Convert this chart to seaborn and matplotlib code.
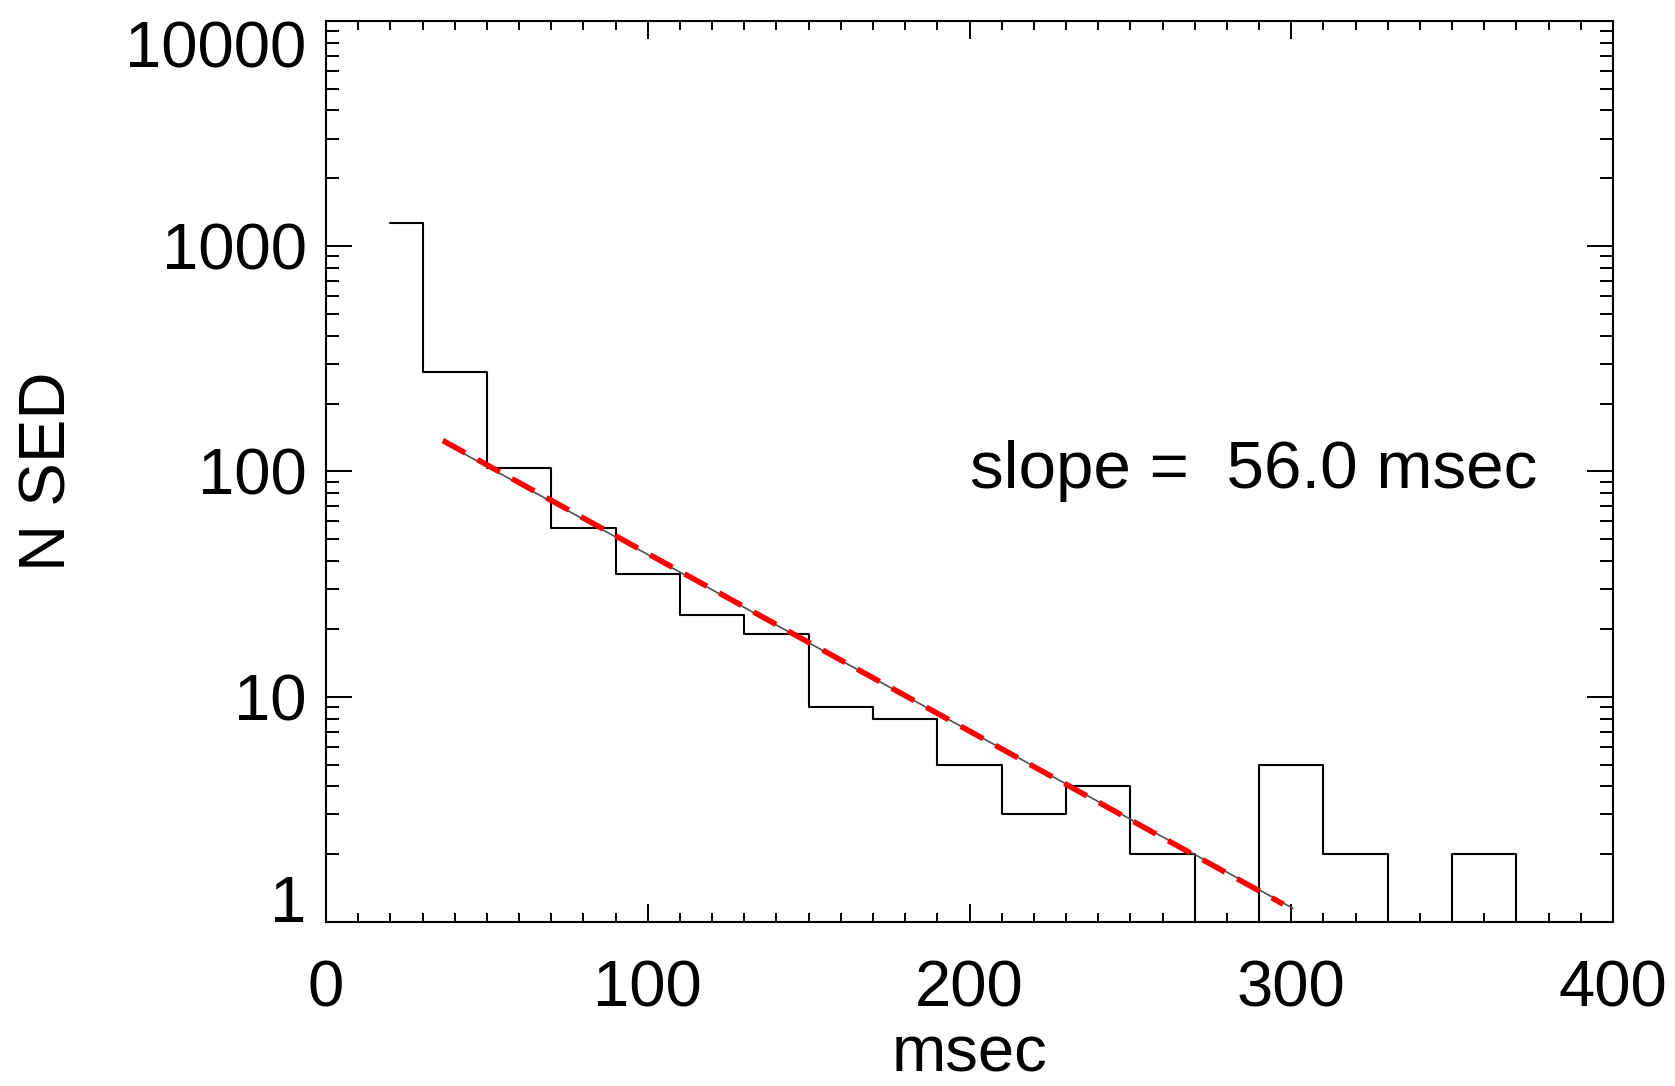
import numpy as np
import pandas as pd
import matplotlib
matplotlib.use("Agg")
import matplotlib.pyplot as plt
import seaborn as sns
from matplotlib.ticker import MultipleLocator, LogLocator, FixedLocator, FuncFormatter, NullFormatter

# ---- data ----
bin_centers = [20, 40, 60, 80, 100, 120, 140, 160, 180, 200, 220, 240, 260, 280, 300, 320, 340, 360, 380]
counts      = [1270, 275, 104, 56, 35, 23, 19, 9, 8, 5, 3, 4, 2, 0, 5, 2, 0, 2, 0]

fit_gray_x = [40.5, 300.5]
fit_gray_y = [125.0, 1.15]
fit_red_x = [36.3, 297.5]
fit_red_y = [137.0, 1.20]

x_ticks = [0, 100, 200, 300, 400]
y_ticks = [1, 10, 100, 1000, 10000]
slope_text = "slope =  56.0 msec"
x_label = "msec"
y_label = "N SED"

# ---- style ----
sns.set_theme(style="ticks")
plt.rcParams["font.family"] = ["Liberation Sans", "DejaVu Sans"]
plt.rcParams["text.color"] = "black"
plt.rcParams["axes.labelcolor"] = "black"
FS = 47

W, H = 1675, 1086
fig = plt.figure(figsize=(W / 100, H / 100), dpi=100)
ax_l, ax_r, ax_t, ax_b = 326, 1613, 20.7, 922
ax = fig.add_axes([ax_l / W, 1 - ax_b / H, (ax_r - ax_l) / W, (ax_b - ax_t) / H])

df = pd.DataFrame({"x": bin_centers, "n": counts})
sns.lineplot(data=df, x="x", y="n", drawstyle="steps-mid", color="black",
             estimator=None, sort=False, ax=ax)
hist_line = ax.lines[-1]
hist_line.set_linewidth(1.5)

sns.lineplot(x=fit_gray_x, y=fit_gray_y, color="#505050",
             estimator=None, sort=False, ax=ax)
gray_line = ax.lines[-1]
gray_line.set_linewidth(1.2)

# straight line in log space between the two end points
sns.lineplot(x=fit_red_x, y=fit_red_y, color="#ff0000",
             estimator=None, sort=False, ax=ax)
red_line = ax.lines[-1]
red_line.set_linewidth(4.0)
red_line.set_linestyle((0, (4.6, 2.5)))
red_line.set_solid_capstyle("butt")
red_line.set_dash_capstyle("butt")

ax.set_yscale("log", nonpositive="clip")
ax.set_xlim(0, 400)
ax.set_ylim(1, 10000)

ax.xaxis.set_major_locator(FixedLocator(x_ticks))
ax.xaxis.set_minor_locator(MultipleLocator(10))
ax.yaxis.set_major_locator(FixedLocator(y_ticks))
ax.yaxis.set_minor_locator(LogLocator(base=10, subs=np.arange(2, 10)))
ax.yaxis.set_minor_formatter(NullFormatter())
ax.xaxis.set_major_formatter(FuncFormatter(lambda v, p: "%d" % v))
ax.yaxis.set_major_formatter(FuncFormatter(lambda v, p: "%d" % round(v)))

for s in ax.spines.values():
    s.set_linewidth(1.5)
    s.set_color("black")

ax.tick_params(axis="both", which="both", direction="in", top=True, right=True,
               width=1.4, color="black", labelsize=FS, labelcolor="black")
ax.tick_params(axis="x", which="major", length=13, pad=27)
ax.tick_params(axis="x", which="minor", length=6.5)
ax.tick_params(axis="y", which="major", length=19, pad=14)
ax.tick_params(axis="y", which="minor", length=9.7)

ax.set_xlabel(x_label, fontsize=FS, va="baseline", color="black")
ax.xaxis.set_label_coords(0.5, -(1071 - ax_b) / (ax_b - ax_t))
ax.set_ylabel(y_label, fontsize=FS, va="center", color="black")
ax.yaxis.set_label_coords(-(ax_l - 48) / (ax_r - ax_l), 0.5)

ax.text(200, 84, slope_text, fontsize=48.5, ha="left", va="baseline", color="black")

fig.canvas.draw()
for lab in ax.yaxis.get_majorticklabels():
    if lab.get_text() == "10000":
        lab.set_va("top")
    elif lab.get_text() == "1":
        lab.set_va("baseline")

if ax.get_legend() is not None:
    ax.get_legend().remove()

fig.savefig("out.png", dpi=100)
